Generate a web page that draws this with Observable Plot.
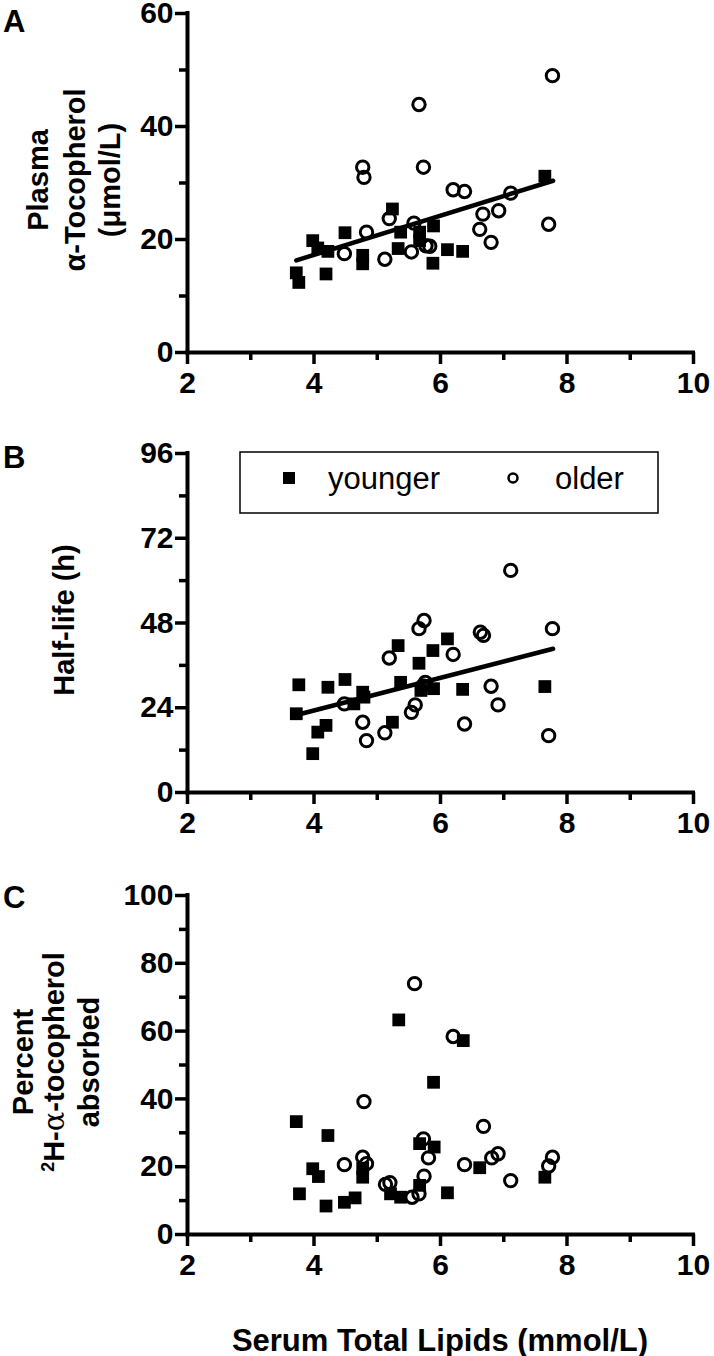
<!DOCTYPE html>
<html>
<head>
<meta charset="utf-8">
<script src="https://cdn.jsdelivr.net/npm/d3@7"></script>
<script src="https://cdn.jsdelivr.net/npm/@observablehq/plot@0.6"></script>
<style>
  html, body { margin: 0; padding: 0; background: #fff; }
  #chart { width: 714px; }
  #chart svg { display: block; }
</style>
</head>
<body>
<div id="chart"></div>
<script>
// ---------- data (x = serum total lipids, mmol/L) ----------
const xMajor = [2, 4, 6, 8, 10];
const xMinor = [3, 5, 7, 9];

// Panel A: plasma alpha-tocopherol (µmol/L)
const aYMajor = [0, 20, 40, 60];
const aYMinor = [10, 30, 50];
const aYounger = [[3.72,14.1],[3.76,12.4],[3.98,19.8],[4.06,18.5],[4.22,17.9],[4.19,13.9],[4.49,21.2],[4.77,17.2],[4.77,15.7],[5.24,25.4],[5.37,21.3],[5.33,18.4],[5.67,21.3],[5.67,19.8],[5.89,22.4],[5.88,15.8],[6.11,18.2],[6.35,17.9],[7.65,31.2]];
const aOlder = [[5.66,43.9],[4.77,32.8],[4.79,31.0],[5.73,32.8],[6.20,28.8],[6.38,28.5],[7.11,28.2],[6.92,25.1],[6.67,24.5],[6.62,21.8],[6.80,19.5],[7.71,22.7],[5.19,23.7],[5.58,22.9],[4.83,21.3],[4.48,17.5],[5.12,16.5],[5.54,17.8],[5.77,18.9],[5.83,18.8],[7.77,49.0]];
const aFit = [[3.72,16.3],[7.78,30.4]];

// Panel B: half-life (h)
const bYMajor = [0, 24, 48, 72, 96];
const bYMinor = [12, 36, 60, 84];
const bYounger = [[3.76,30.5],[3.72,22.3],[3.98,11.0],[4.06,17.1],[4.19,19.0],[4.22,29.8],[4.49,32.0],[4.77,28.4],[4.79,27.0],[4.63,25.1],[5.24,19.9],[5.33,41.6],[5.37,31.2],[5.66,36.6],[5.69,28.9],[5.88,40.2],[5.89,29.4],[6.11,43.5],[6.35,29.2],[7.65,30.0]];
const bOlder = [[7.11,62.9],[5.74,48.7],[5.66,46.4],[6.63,45.4],[6.68,44.5],[7.77,46.4],[5.19,38.1],[6.20,39.1],[5.76,31.2],[5.72,30.2],[4.48,25.1],[6.80,30.1],[6.91,24.8],[5.60,24.8],[5.54,22.7],[4.77,19.9],[5.12,16.9],[4.83,14.7],[6.38,19.4],[7.71,16.1]];
const bFit = [[3.80,22.3],[7.78,40.7]];

// Panel C: percent 2H-alpha-tocopherol absorbed
const cYMajor = [0, 20, 40, 60, 80, 100];
const cYMinor = [10, 30, 50, 70, 90];
const cYounger = [[3.72,33.3],[4.22,29.2],[3.98,19.4],[4.07,17.1],[3.77,12.0],[4.19,8.4],[4.48,9.5],[4.65,10.8],[4.77,16.9],[4.77,19.5],[5.21,12.0],[5.37,11.0],[5.67,26.8],[5.67,14.5],[5.90,25.8],[5.89,44.9],[6.36,57.2],[6.11,12.3],[6.62,19.7],[7.65,16.9],[5.34,63.3]];
const cOlder = [[6.20,58.4],[4.79,39.2],[6.68,31.9],[5.73,28.2],[5.81,22.6],[4.48,20.6],[4.77,22.8],[4.83,20.9],[6.38,20.6],[6.81,22.6],[6.91,23.8],[7.11,15.9],[7.77,22.8],[7.71,20.2],[5.13,14.8],[5.20,15.3],[5.55,11.0],[5.66,12.0],[5.74,17.2],[5.59,74.0]];

const legendLabels = ["younger", "older"];
const xTitle = "Serum Total Lipids (mmol/L)";

// ---------- drawing ----------
const FONT = "'Liberation Sans', Arial, Helvetica, sans-serif";

function panel({younger, older, fit, yMax, yMajor, yMinor, height, marginTop, marginBottom}) {
  const marks = [
    Plot.axisY(yMinor, {tickSize: 8, text: null, strokeWidth: 3.5, label: null}),
    Plot.axisY(yMajor, {tickSize: 12, tickPadding: 2, strokeWidth: 3.5, fontSize: 30, fontWeight: "bold", label: null}),
    Plot.axisX(xMinor, {tickSize: 8, text: null, strokeWidth: 3.5, label: null}),
    Plot.axisX(xMajor, {tickSize: 12, tickPadding: 7, strokeWidth: 3.5, fontSize: 30, fontWeight: "bold", label: null}),
    Plot.ruleX([2], {strokeWidth: 4, stroke: "black", strokeLinecap: "square"}),
    Plot.ruleY([0], {strokeWidth: 4, stroke: "black", strokeLinecap: "square"}),
    Plot.dot(younger, {x: d => d[0], y: d => d[1], symbol: "square", r: 7.2, fill: "black", stroke: "none"}),
    Plot.dot(older, {x: d => d[0], y: d => d[1], symbol: "circle", r: 6.2, fill: "none", stroke: "black", strokeWidth: 3})
  ];
  if (fit) marks.push(Plot.line(fit, {x: d => d[0], y: d => d[1], stroke: "black", strokeWidth: 4.5}));
  return Plot.plot({
    width: 714, height,
    marginLeft: 187, marginRight: 21, marginTop, marginBottom,
    x: {domain: [2, 10]},
    y: {domain: [0, yMax]},
    style: {fontFamily: FONT, color: "black", background: "white", overflow: "visible"},
    marks
  });
}

function addText(svg, txt, x, y, opts = {}) {
  const t = d3.select(svg).append("text")
    .attr("x", x).attr("y", y)
    .attr("font-family", FONT)
    .attr("font-size", opts.size || 30)
    .attr("font-weight", opts.weight || "bold")
    .attr("text-anchor", opts.anchor || "start")
    .attr("fill", "black")
    .text(txt);
  return t;
}

function addRotated(svg, lines, baselines, cy, size) {
  lines.forEach((line, i) => {
    const t = d3.select(svg).append("text")
      .attr("transform", `translate(${baselines[i]},${cy}) rotate(-90)`)
      .attr("font-family", FONT)
      .attr("font-size", size)
      .attr("font-weight", "bold")
      .attr("text-anchor", "middle")
      .attr("fill", "black");
    if (typeof line === "string") t.text(line);
    else line(t);
  });
}

const root = document.getElementById("chart");

// Panel A
const svgA = panel({younger: aYounger, older: aOlder, fit: aFit, yMax: 60, yMajor: aYMajor, yMinor: aYMinor, height: 440, marginTop: 13, marginBottom: 88});
addText(svgA, "A", 3, 32, {size: 31});
addRotated(svgA, ["Plasma", "α-Tocopherol", "(μmol/L)"], [48, 85, 120], 180, 29);
root.appendChild(svgA);

// Panel B
const svgB = panel({younger: bYounger, older: bOlder, fit: bFit, yMax: 96, yMajor: bYMajor, yMinor: bYMinor, height: 440, marginTop: 13, marginBottom: 88});
addText(svgB, "B", 3, 28, {size: 31});
addRotated(svgB, ["Half-life (h)"], [74], 180, 29);
// legend box
const lg = d3.select(svgB).append("g");
lg.append("rect").attr("x", 240).attr("y", 12).attr("width", 418).attr("height", 61)
  .attr("fill", "white").attr("stroke", "black").attr("stroke-width", 1.5);
lg.append("rect").attr("x", 283).attr("y", 32).attr("width", 12).attr("height", 12).attr("fill", "black");
addText(svgB, legendLabels[0], 328, 49, {size: 31, weight: "normal"});
lg.append("circle").attr("cx", 513).attr("cy", 38).attr("r", 4.5).attr("fill", "none").attr("stroke", "black").attr("stroke-width", 2.5);
addText(svgB, legendLabels[1], 555, 49, {size: 31, weight: "normal"});
root.appendChild(svgB);

// Panel C
const svgC = panel({younger: cYounger, older: cOlder, fit: null, yMax: 100, yMajor: cYMajor, yMinor: cYMinor, height: 476, marginTop: 15, marginBottom: 122});
addText(svgC, "C", 3, 28, {size: 31});
addRotated(svgC, [
  "Percent",
  t => {
    t.append("tspan").attr("baseline-shift", "super").attr("font-size", 18).text("2");
    t.append("tspan").text("H-");
    t.append("tspan").attr("font-weight", "normal").attr("font-family", "'DejaVu Serif', serif").text("α");
    t.append("tspan").text("-tocopherol");
  },
  "absorbed"
], [33, 64, 99], 182, 29);
addText(svgC, xTitle, 440, 471, {size: 31, anchor: "middle"});
root.appendChild(svgC);
</script>
</body>
</html>
